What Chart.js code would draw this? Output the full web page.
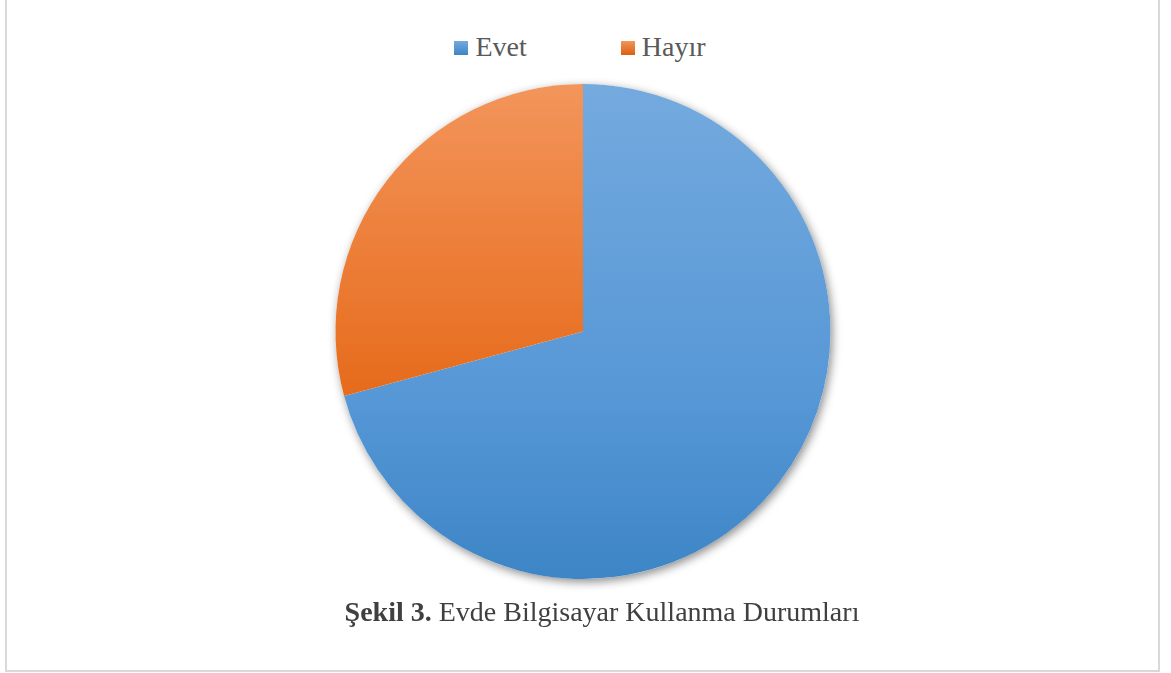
<!DOCTYPE html>
<html>
<head>
<meta charset="utf-8">
<script src="https://cdn.jsdelivr.net/npm/chart.js@4.4.1/dist/chart.umd.min.js"></script>
<style>
    html, body { margin: 0; padding: 0; background: #ffffff; }
    body { width: 1171px; height: 673px; position: relative; overflow: hidden; }
    .frame { position: absolute; left: 5px; top: -10px; width: 1155px; height: 682px; box-sizing: border-box; border: 2px solid #d9d9d9; }
    .chart-box { position: absolute; left: 283px; top: 64px; width: 600px; height: 535px; }
    #legend { position: absolute; left: 0; top: 31px; width: 1160px; display: flex; justify-content: center; font-size: 28px; line-height: 32px; color: #595959; }
    #legend .item { display: flex; align-items: center; margin: 0 47px; }
    #legend .box { width: 14px; height: 14px; margin-right: 7px; margin-top: 1px; }
    .caption { position: absolute; left: 0; top: 596px; width: 1204px; text-align: center; font-size: 28px; line-height: 32px; color: #404040; }
</style>
</head>
<body>
<div class="frame"></div>
<div id="legend" style="font-family:'Liberation Serif'"></div>
<div class="chart-box"><canvas id="pieChart"></canvas></div>
<div class="caption" style="font-family:'Liberation Serif'"><b>Şekil 3.</b> Evde Bilgisayar Kullanma Durumları</div>

<script>
// chart data
const labels = ['Evet', 'Hayır'];
const values = [70.8, 29.2];
const colorTop = ['#74aade', '#f3955b'];
const colorMid = ['#5697d6', '#e66a1a'];
const colorBottom = ['#3d85c6', '#da5f10'];
const legendSwatch = ['#5b9bd5', '#ed7d31'];

// vertical gradient over the whole pie, like the office chart style
function sliceFill(context) {
    const chart = context.chart;
    const area = chart.chartArea;
    if (!area) return legendSwatch[context.dataIndex];
    const i = context.dataIndex;
    const g = chart.ctx.createLinearGradient(0, area.top, 0, area.bottom);
    g.addColorStop(0, colorTop[i]);
    g.addColorStop(0.64, colorMid[i]);
    g.addColorStop(1, colorBottom[i]);
    return g;
}

// soft drop shadow under the pie disc
const pieShadow = {
    id: 'pieShadow',
    beforeDatasetsDraw(chart) {
        const arc = chart.getDatasetMeta(0).data[0];
        if (!arc) return;
        const { x, y, outerRadius } = arc.getProps(['x', 'y', 'outerRadius'], true);
        const ctx = chart.ctx;
        ctx.save();
        ctx.shadowColor = 'rgba(0, 0, 0, 0.45)';
        ctx.shadowBlur = 10;
        ctx.shadowOffsetX = 2;
        ctx.shadowOffsetY = 3;
        ctx.fillStyle = '#ffffff';
        ctx.beginPath();
        ctx.arc(x, y, outerRadius, 0, Math.PI * 2);
        ctx.fill();
        ctx.restore();
    }
};

// html legend built from the chart's own legend items
const htmlLegend = {
    id: 'htmlLegend',
    afterUpdate(chart) {
        const box = document.getElementById('legend');
        box.innerHTML = '';
        const items = chart.options.plugins.legend.labels.generateLabels(chart);
        items.forEach((item, i) => {
            const el = document.createElement('div');
            el.className = 'item';
            const sw = document.createElement('span');
            sw.className = 'box';
            sw.style.background = 'linear-gradient(' + colorTop[i] + ', ' + colorBottom[i] + ')';
            const tx = document.createElement('span');
            tx.textContent = item.text;
            el.appendChild(sw);
            el.appendChild(tx);
            box.appendChild(el);
        });
    }
};

new Chart(document.getElementById('pieChart'), {
    type: 'pie',
    data: {
        labels: labels,
        datasets: [{
            data: values,
            backgroundColor: sliceFill,
            borderWidth: 0,
            hoverOffset: 0
        }]
    },
    options: {
        responsive: true,
        maintainAspectRatio: false,
        animation: false,
        layout: { padding: 20 },
        plugins: {
            legend: { display: false },
            tooltip: { enabled: false }
        }
    },
    plugins: [pieShadow, htmlLegend]
});
</script>
</body>
</html>
